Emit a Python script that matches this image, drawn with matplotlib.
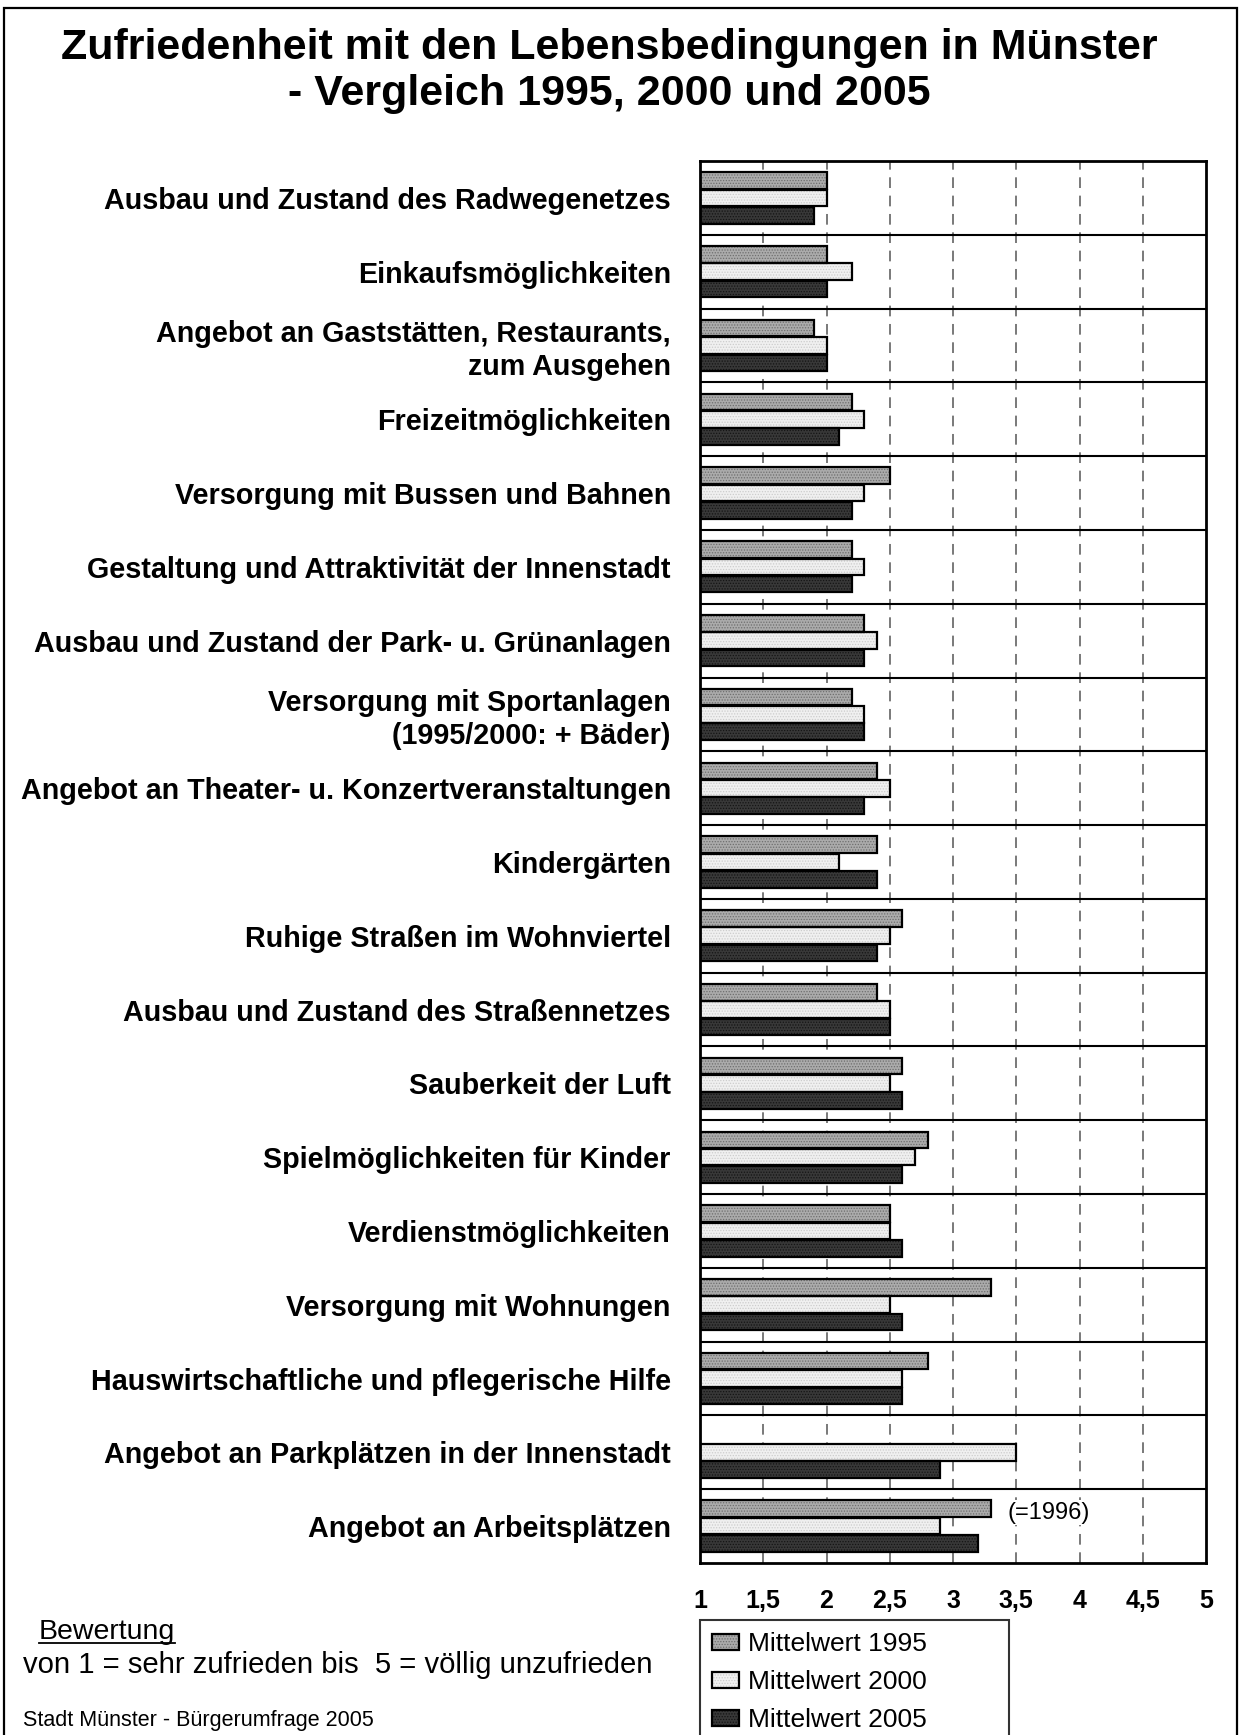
import numpy as np
import matplotlib
matplotlib.use("Agg")
import matplotlib.pyplot as plt
from matplotlib.patches import Patch, Rectangle
from matplotlib.lines import Line2D

plt.rcParams["font.family"] = ["Liberation Sans", "DejaVu Sans"]
plt.rcParams["hatch.linewidth"] = 0.6

categories = [
    "Ausbau und Zustand des Radwegenetzes",
    "Einkaufsmöglichkeiten",
    "Angebot an Gaststätten, Restaurants,\nzum Ausgehen",
    "Freizeitmöglichkeiten",
    "Versorgung mit Bussen und Bahnen",
    "Gestaltung und Attraktivität der Innenstadt",
    "Ausbau und Zustand der Park- u. Grünanlagen",
    "Versorgung mit Sportanlagen\n(1995/2000: + Bäder)",
    "Angebot an Theater- u. Konzertveranstaltungen",
    "Kindergärten",
    "Ruhige Straßen im Wohnviertel",
    "Ausbau und Zustand des Straßennetzes",
    "Sauberkeit der Luft",
    "Spielmöglichkeiten für Kinder",
    "Verdienstmöglichkeiten",
    "Versorgung mit Wohnungen",
    "Hauswirtschaftliche und pflegerische Hilfe",
    "Angebot an Parkplätzen in der Innenstadt",
    "Angebot an Arbeitsplätzen",
]
mean_1995 = [2.0, 2.0, 1.9, 2.2, 2.5, 2.2, 2.3, 2.2, 2.4, 2.4,
             2.6, 2.4, 2.6, 2.8, 2.5, 3.3, 2.8, np.nan, 3.3]
mean_2000 = [2.0, 2.2, 2.0, 2.3, 2.3, 2.3, 2.4, 2.3, 2.5, 2.1,
             2.5, 2.5, 2.5, 2.7, 2.5, 2.5, 2.6, 3.5, 2.9]
mean_2005 = [1.9, 2.0, 2.0, 2.1, 2.2, 2.2, 2.3, 2.3, 2.3, 2.4,
             2.4, 2.5, 2.6, 2.6, 2.6, 2.6, 2.6, 2.9, 3.2]
series_labels = ["Mittelwert 1995", "Mittelwert 2000", "Mittelwert 2005"]
x_ticks = [1, 1.5, 2, 2.5, 3, 3.5, 4, 4.5, 5]
x_ticklabels = ["1", "1,5", "2", "2,5", "3", "3,5", "4", "4,5", "5"]

W, H = 1241, 1735
fig = plt.figure(figsize=(W / 100, H / 100), dpi=100)

# outer frame
fig.patches.append(Rectangle((4 / W, -0.05), 1233 / W, 1.05 - 8 / H,
                             transform=fig.transFigure, fill=False,
                             edgecolor="black", linewidth=1.6))

fig.text(609 / W, 1 - 71 / H,
         "Zufriedenheit mit den Lebensbedingungen in Münster\n- Vergleich 1995, 2000 und 2005",
         ha="center", va="center", fontsize=31, fontweight="bold", linespacing=1.19)

ax = fig.add_axes([700 / W, 1 - 1563 / H, 506 / W, (1563 - 161) / H])

n = len(categories)
y = np.arange(n)
faces = ["#ababab", "#f0f0f0", "#383838"]
hatch_cols = ["#6e6e6e", "#cccccc", "#141414"]
offsets = [0.265, 0.5, 0.735]
bar_h = 0.225
handles = []
for vals, off, fc, hc, lab in zip([mean_1995, mean_2000, mean_2005], offsets,
                                  faces, hatch_cols, series_labels):
    widths = np.array(vals) - 1
    ax.barh(y + off, widths, left=1, height=bar_h, color=fc, edgecolor=hc,
            hatch="......", linewidth=0, zorder=2)
    ax.barh(y + off, widths, left=1, height=bar_h, fill=False,
            edgecolor="black", linewidth=1.6, zorder=3)
    handles.append((Patch(facecolor=fc, edgecolor=hc, hatch="......", linewidth=0),
                    Patch(fill=False, edgecolor="black", linewidth=1.6)))

for g in range(1, n):
    ax.axhline(g, color="black", linewidth=1.5, zorder=4)
for xv in x_ticks[1:-1]:
    ax.axvline(xv, color="#555555", linewidth=1.1, dashes=(7, 5), zorder=1)

ax.set_xlim(1, 5)
ax.set_ylim(n, 0)
ax.set_xticks(x_ticks)
ax.set_xticklabels(x_ticklabels, fontsize=18, fontweight="bold")
ax.set_yticks(y + 0.5)
ax.set_yticklabels(categories, fontsize=20.7, fontweight="bold")
ax.tick_params(axis="x", length=0, pad=19)
ax.tick_params(axis="y", length=0, pad=21)
for s in ax.spines.values():
    s.set_linewidth(2)

ax.text(3.43, 18.32, "(=1996)", fontsize=17, va="center", ha="left", zorder=5,
        bbox=dict(facecolor="white", edgecolor="none", pad=1))

leg = fig.legend(handles, series_labels, loc="upper left",
                 bbox_to_anchor=(700 / W, 1 - 1620 / H, 309 / W, 0.0),
                 mode="expand", fontsize=19, frameon=True, fancybox=False,
                 edgecolor="black", borderaxespad=0, borderpad=0.47,
                 labelspacing=0.53, handlelength=1.0, handleheight=0.6,
                 handletextpad=0.35)
leg.get_frame().set_linewidth(1.5)

bew = fig.text(39 / W, 1 - 1632 / H, "Bewertung", fontsize=20.5, va="center", ha="left")
fig.text(23 / W, 1 - 1665 / H, "von 1 = sehr zufrieden bis  5 = völlig unzufrieden",
         fontsize=21.1, va="center", ha="left")
fig.text(23 / W, 1 - 1720 / H, "Stadt Münster - Bürgerumfrage 2005",
         fontsize=15.5, va="center", ha="left")

fig.canvas.draw()
bb = bew.get_window_extent()
uy = bb.y0 + 2
fig.lines.append(Line2D([bb.x0 / W, bb.x1 / W], [uy / H, uy / H],
                        transform=fig.transFigure, color="black", linewidth=1.3))

fig.savefig("out.png", dpi=100)
